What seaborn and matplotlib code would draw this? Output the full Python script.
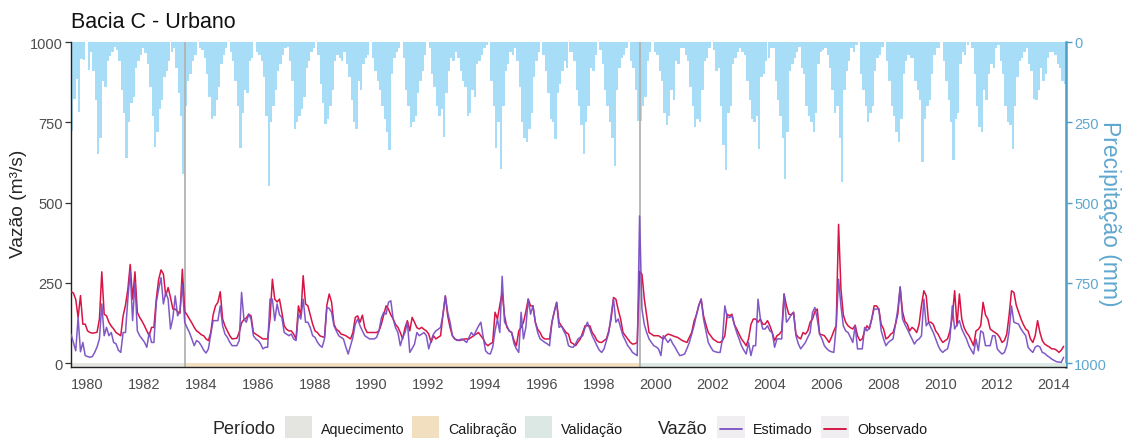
import numpy as np
import pandas as pd
import matplotlib
matplotlib.use("Agg")
import matplotlib.pyplot as plt
import seaborn as sns
from matplotlib.patches import Rectangle
from matplotlib.lines import Line2D

# ---------------- data (monthly, Jan 1980 - Dec 2014) ----------------
observado = [
    222, 218, 198, 142, 210, 121, 121, 100, 95, 93, 94, 96,
    137, 284, 152, 147, 127, 115, 106, 95, 90, 85, 147, 180,
    230, 307, 199, 284, 158, 142, 130, 116, 100, 85, 111, 111,
    199, 260, 290, 277, 209, 235, 204, 168, 168, 160, 155, 292,
    160, 150, 137, 125, 111, 100, 95, 88, 85, 75, 70, 95,
    150, 178, 189, 222, 137, 115, 100, 85, 75, 76, 77, 95,
    125, 135, 140, 152, 147, 95, 90, 85, 80, 75, 75, 75,
    137, 261, 199, 190, 199, 158, 116, 105, 100, 100, 90, 75,
    178, 147, 272, 184, 178, 150, 121, 100, 95, 85, 82, 80,
    180, 215, 189, 121, 105, 100, 90, 88, 85, 80, 75, 95,
    142, 147, 127, 149, 110, 95, 95, 95, 95, 95, 100, 121,
    150, 178, 168, 150, 137, 120, 111, 95, 75, 110, 132, 100,
    142, 127, 110, 106, 111, 105, 100, 90, 64, 85, 75, 80,
    85, 150, 209, 147, 111, 85, 75, 72, 70, 72, 75, 75,
    75, 80, 85, 90, 95, 85, 75, 60, 54, 60, 64, 158,
    137, 180, 220, 147, 111, 100, 95, 70, 54, 100, 111, 127,
    160, 199, 178, 178, 127, 105, 95, 80, 75, 75, 75, 127,
    160, 189, 127, 116, 105, 95, 90, 64, 60, 54, 65, 75,
    95, 116, 116, 116, 95, 85, 70, 65, 64, 70, 75, 100,
    137, 204, 199, 165, 137, 95, 85, 75, 65, 59, 60, 64,
    285, 277, 200, 147, 95, 90, 85, 85, 85, 80, 75, 85,
    90, 88, 85, 82, 80, 75, 70, 67, 64, 80, 95, 130,
    150, 180, 199, 147, 120, 95, 85, 75, 70, 65, 64, 70,
    85, 152, 147, 152, 120, 106, 90, 75, 65, 54, 75, 120,
    137, 137, 127, 137, 121, 121, 132, 116, 95, 70, 85, 90,
    100, 215, 178, 152, 150, 158, 90, 80, 75, 95, 90, 100,
    127, 137, 160, 168, 90, 88, 85, 75, 64, 80, 100, 116,
    432, 230, 150, 127, 116, 110, 106, 118, 85, 70, 75, 100,
    116, 106, 137, 178, 178, 168, 120, 106, 75, 80, 90, 95,
    120, 152, 235, 160, 130, 121, 100, 111, 105, 95, 121, 180,
    225, 209, 127, 127, 120, 100, 90, 75, 64, 70, 75, 100,
    142, 225, 116, 215, 137, 110, 95, 85, 70, 54, 100, 105,
    116, 189, 150, 137, 106, 100, 95, 90, 80, 64, 70, 90,
    150, 225, 220, 180, 158, 137, 120, 106, 100, 75, 64, 85,
    132, 95, 70, 59, 54, 50, 44, 44, 40, 33, 40, 52,
]

estimado = [
    90, 64, 38, 142, 35, 64, 23, 20, 18, 20, 33, 50,
    75, 184, 85, 111, 85, 95, 64, 60, 40, 33, 95, 95,
    200, 287, 132, 251, 100, 85, 75, 65, 49, 95, 64, 64,
    189, 230, 266, 184, 220, 199, 106, 140, 209, 147, 160, 246,
    127, 110, 95, 75, 54, 70, 65, 54, 40, 31, 44, 90,
    132, 132, 132, 178, 116, 90, 80, 65, 54, 54, 54, 70,
    220, 137, 127, 152, 137, 85, 75, 70, 60, 44, 49, 49,
    199, 199, 132, 184, 150, 142, 95, 90, 85, 90, 75, 70,
    152, 137, 199, 127, 127, 110, 85, 80, 65, 55, 49, 75,
    173, 170, 158, 116, 100, 85, 80, 75, 50, 28, 54, 80,
    121, 137, 116, 100, 85, 80, 75, 75, 75, 80, 100, 140,
    158, 152, 189, 194, 137, 110, 95, 54, 80, 95, 127, 33,
    45, 59, 95, 85, 90, 95, 85, 44, 70, 90, 100, 105,
    111, 150, 209, 158, 127, 85, 75, 70, 72, 75, 70, 64,
    80, 95, 85, 100, 115, 127, 80, 38, 30, 28, 49, 100,
    137, 95, 270, 127, 116, 100, 95, 60, 44, 33, 158, 75,
    111, 199, 152, 178, 127, 95, 75, 70, 64, 60, 54, 127,
    160, 189, 111, 116, 100, 85, 54, 50, 49, 60, 75, 80,
    85, 110, 127, 106, 85, 70, 54, 40, 33, 44, 70, 95,
    150, 199, 127, 137, 110, 85, 70, 54, 45, 33, 28, 23,
    458, 168, 120, 95, 75, 64, 54, 50, 44, 23, 85, 75,
    64, 75, 60, 49, 35, 23, 25, 28, 45, 64, 90, 116,
    150, 178, 199, 137, 100, 64, 50, 38, 35, 33, 33, 75,
    178, 142, 142, 147, 120, 95, 75, 54, 40, 28, 64, 23,
    54, 54, 199, 137, 106, 106, 116, 100, 95, 49, 75, 75,
    75, 215, 127, 137, 150, 158, 85, 60, 44, 54, 64, 80,
    95, 158, 173, 137, 90, 75, 54, 45, 38, 35, 33, 116,
    261, 178, 116, 100, 95, 80, 64, 116, 44, 44, 44, 111,
    100, 110, 137, 168, 168, 168, 100, 75, 54, 64, 70, 75,
    120, 168, 238, 137, 120, 106, 90, 75, 59, 70, 75, 85,
    199, 116, 127, 110, 95, 75, 55, 40, 33, 40, 44, 75,
    178, 106, 120, 132, 106, 90, 75, 54, 40, 28, 75, 38,
    100, 95, 54, 54, 54, 85, 85, 44, 35, 28, 33, 54,
    100, 178, 127, 124, 121, 106, 95, 85, 49, 40, 33, 49,
    54, 50, 33, 30, 23, 18, 12, 8, 4, 3, 2, 18,
]

precipitacao = [
    276, 177, 115, 219, 53, 55, 0, 86, 30, 90, 180, 350,
    300, 120, 140, 60, 45, 30, 15, 25, 60, 150, 220, 360,
    250, 190, 170, 80, 60, 40, 20, 35, 70, 140, 230, 327,
    280, 210, 180, 110, 90, 60, 30, 20, 80, 160, 230, 410,
    200, 120, 100, 60, 40, 0, 20, 25, 50, 100, 170, 240,
    230, 180, 140, 70, 40, 20, 0, 30, 60, 120, 200, 330,
    220, 150, 160, 60, 50, 0, 30, 40, 60, 110, 230, 450,
    250, 200, 150, 90, 70, 40, 20, 15, 60, 120, 270, 250,
    230, 210, 170, 80, 60, 30, 20, 0, 40, 130, 190, 255,
    240, 200, 150, 60, 40, 50, 60, 30, 70, 110, 180, 250,
    270, 120, 150, 70, 50, 40, 0, 50, 90, 120, 150, 200,
    240, 280, 338, 100, 50, 30, 20, 0, 50, 150, 200, 265,
    250, 230, 160, 120, 90, 40, 0, 20, 100, 140, 200, 230,
    210, 297, 160, 90, 50, 60, 30, 50, 90, 120, 140, 230,
    220, 150, 170, 70, 60, 40, 20, 10, 0, 120, 200, 330,
    250, 395, 200, 90, 70, 30, 40, 20, 60, 140, 250, 300,
    312, 270, 220, 110, 60, 30, 0, 40, 90, 160, 240, 250,
    302, 160, 130, 90, 60, 80, 30, 30, 60, 150, 200, 260,
    350, 250, 200, 80, 90, 40, 0, 25, 70, 150, 200, 250,
    300, 385, 150, 80, 50, 40, 20, 0, 60, 80, 150, 245,
    245, 200, 170, 60, 30, 0, 30, 40, 90, 120, 220, 260,
    230, 150, 180, 60, 70, 20, 20, 40, 60, 140, 200, 265,
    240, 250, 150, 60, 50, 20, 0, 25, 90, 80, 200, 320,
    400, 220, 200, 70, 50, 30, 20, 30, 40, 120, 180, 240,
    250, 230, 333, 110, 100, 60, 50, 20, 20, 120, 180, 230,
    300, 426, 280, 90, 70, 50, 30, 15, 80, 100, 200, 230,
    250, 281, 220, 70, 30, 25, 20, 40, 80, 150, 220, 200,
    300, 437, 150, 90, 60, 20, 30, 10, 0, 100, 150, 200,
    250, 220, 200, 90, 50, 40, 15, 0, 60, 120, 200, 230,
    280, 312, 240, 100, 60, 40, 50, 50, 120, 150, 180, 374,
    240, 200, 180, 100, 40, 20, 20, 0, 60, 120, 180, 250,
    369, 240, 220, 70, 30, 40, 10, 0, 20, 100, 200, 265,
    280, 150, 180, 100, 70, 80, 20, 10, 60, 100, 200, 250,
    260, 333, 200, 110, 60, 50, 30, 20, 70, 90, 177, 180,
    150, 80, 120, 100, 50, 30, 30, 40, 70, 80, 120, 131,
]

inicio_ano = 1980
periodos = ["Aquecimento", "Calibração", "Validação"]
periodo_inicio = [1980, 1984, 2000]
periodo_fim = [1984, 2000, 2015]
series = ["Estimado", "Observado"]
anos_ticks = list(range(1980, 2015, 2))
y_ticks = [0, 250, 500, 750, 1000]

# ---------------- style ----------------
sns.set_style("white")
plt.rcParams['font.family'] = ['Liberation Sans', 'DejaVu Sans']

cor_periodo = {"Aquecimento": "#e4e4e0", "Calibração": "#f1dfbf", "Validação": "#dbe8e3"}
cor_serie = {"Estimado": "#7a50c4", "Observado": "#d6073b"}
cor_chuva = "#a8ddf8"
cor_eixo2 = "#5fa7cf"

W, H = 1125, 439
fig = plt.figure(figsize=(W / 100, H / 100), dpi=100)
L, R, T, B = 71, 1066, 43, 368
ax = fig.add_axes([L / W, 1 - B / H, (R - L) / W, (B - T) / H])
ax2 = ax.twinx()
ax.set_zorder(ax2.get_zorder() + 1)
ax.patch.set_visible(False)

n = len(observado)
t = inicio_ano + np.arange(n) / 12.0
ymin = -12.45

# precipitation bars hanging from the top (secondary inverted axis)
ax2.bar(t, precipitacao, width=1 / 12.0, align="edge", color=cor_chuva, linewidth=0)
ax2.set_ylim(1000 - ymin, 0)
ax2.set_yticks(y_ticks)

# period strips
for nome, s, e in zip(periodos, periodo_inicio, periodo_fim):
    ax.add_patch(Rectangle((s, ymin), e - s, -ymin, facecolor=cor_periodo[nome],
                           edgecolor="none", zorder=1))
for s in periodo_inicio[1:]:
    ax.axvline(s, color="#b3b3b3", lw=1.3, zorder=2)

# flows
df = pd.DataFrame({
    "t": np.concatenate([t, t]),
    "vazao": list(observado) + list(estimado),
    "Vazão": ["Observado"] * n + ["Estimado"] * n,
})
sns.lineplot(data=df, x="t", y="vazao", hue="Vazão", hue_order=["Observado", "Estimado"],
             palette=cor_serie, linewidth=1.1, alpha=0.95, ax=ax, legend=False, zorder=3)

ax.set_xlim(1980, 2015)
ax.set_ylim(ymin, 1000)
ax.set_yticks(y_ticks)
ax.set_xticks(anos_ticks)
ax.set_xticklabels([str(a) for a in anos_ticks], ha="left")
ax.set_xlabel("")
ax.set_ylabel("")

for sp in ["top", "right"]:
    ax.spines[sp].set_visible(False)
for sp in ["left", "bottom"]:
    ax.spines[sp].set_color("#222222")
    ax.spines[sp].set_linewidth(1.0)
for sp in ["top", "left", "bottom"]:
    ax2.spines[sp].set_visible(False)
ax2.spines["right"].set_color("#4f9cc5")
ax2.spines["right"].set_linewidth(1.8)

ax.tick_params(axis="both", direction="out", length=4, width=0.9, color="#333333",
               labelsize=10.5, labelcolor="#4d4d4d", pad=2)
ax.tick_params(axis="x", pad=3)
ax2.tick_params(axis="y", direction="out", length=4, width=1.0, color="#4f9cc5",
                labelsize=10.5, labelcolor=cor_eixo2, pad=2)

# titles
fig.text(L / W, 1 - 22 / H, "Bacia C - Urbano", fontsize=15.5, ha="left", va="center", color="#111111")
fig.text(19 / W, 1 - 204 / H, "Vazão (m³/s)", fontsize=13.8, rotation=90, ha="center", va="center")
fig.text(1109 / W, 1 - 214 / H, "Precipitação (mm)", fontsize=16.5, rotation=270, ha="center",
         va="center", color=cor_eixo2)

# legend (bottom)
yc = 430
fig.text(213 / W, 1 - yc / H, "Período", fontsize=13, ha="left", va="center")
fig.text(658 / W, 1 - yc / H, "Vazão", fontsize=13, ha="left", va="center")
key_x = {"Aquecimento": 285, "Calibração": 412, "Validação": 525}
for nome in periodos:
    x0 = key_x[nome]
    fig.add_artist(Rectangle((x0 / W, 1 - 443 / H), 27 / W, 26 / H, transform=fig.transFigure,
                             facecolor=cor_periodo[nome], edgecolor="none"))
    fig.text((x0 + 36) / W, 1 - yc / H, nome, fontsize=10.3, ha="left", va="center", color="#1a1a1a")
key_x2 = {"Estimado": 717, "Observado": 821}
for nome in series:
    x0 = key_x2[nome]
    fig.add_artist(Rectangle((x0 / W, 1 - 443 / H), 28 / W, 26 / H, transform=fig.transFigure,
                             facecolor="#f0eef1", edgecolor="none"))
    fig.add_artist(Line2D([(x0 + 3) / W, (x0 + 25) / W], [1 - yc / H, 1 - yc / H],
                          transform=fig.transFigure, color=cor_serie[nome], lw=1.3))
    fig.text((x0 + 36) / W, 1 - yc / H, nome, fontsize=10.3, ha="left", va="center", color="#1a1a1a")

fig.savefig("out.png", dpi=100)
